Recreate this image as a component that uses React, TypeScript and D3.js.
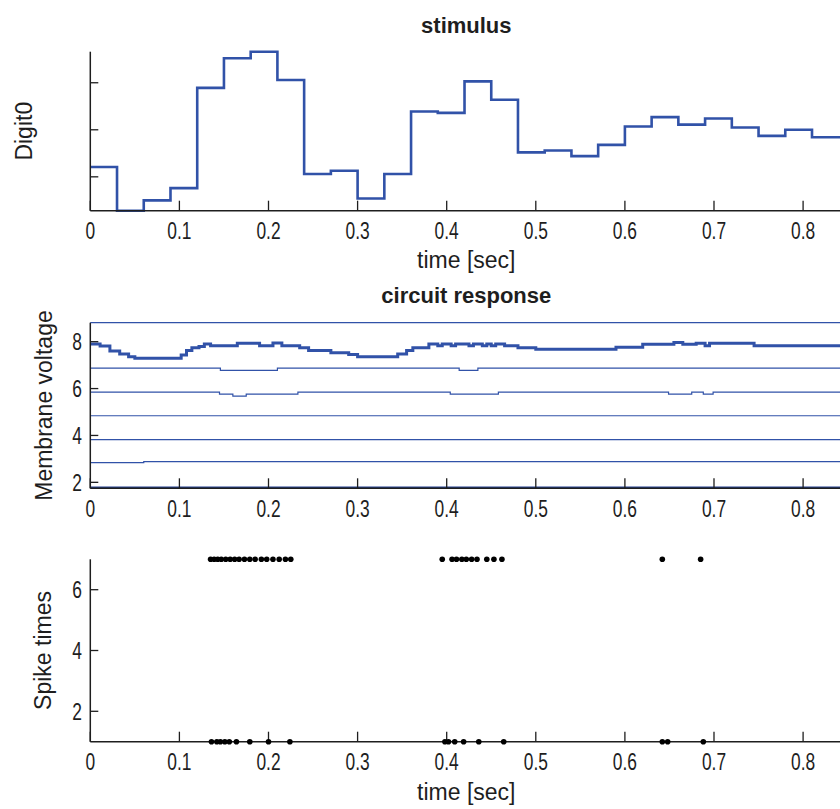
import React from 'react';
import * as d3 from 'd3';

// ---------- data ----------
const timeTicks = [0, 0.1, 0.2, 0.3, 0.4, 0.5, 0.6, 0.7, 0.8];
const timeTickLabels = ['0', '0.1', '0.2', '0.3', '0.4', '0.5', '0.6', '0.7', '0.8'];

const stimStarts = [0, 0.03, 0.06, 0.09, 0.12, 0.15, 0.18, 0.21, 0.24, 0.27, 0.30, 0.33, 0.36, 0.39,
  0.42, 0.45, 0.48, 0.51, 0.54, 0.57, 0.60, 0.63, 0.66, 0.69, 0.72, 0.75, 0.78, 0.81, 0.845];
const stimValues = [12.1, 2.8, 5.0, 7.6, 28.9, 35.2, 36.6, 30.6, 10.6, 11.3, 5.4, 10.6, 23.9, 23.6,
  30.3, 26.4, 15.2, 15.6, 14.4, 16.8, 20.7, 22.7, 21.1, 22.4, 20.5, 18.7, 20.0, 18.4, 18.4];
const stimTicks = [10, 20, 30];

const voltTicks = [2, 4, 6, 8];
const voltDomain = [1.745, 8.81];

const mainT = [0, 0.011, 0.022, 0.033, 0.043, 0.05, 0.102, 0.108, 0.114, 0.122, 0.128, 0.135, 0.165, 0.19,
  0.205, 0.215, 0.235, 0.245, 0.27, 0.29, 0.30, 0.345, 0.355, 0.362, 0.38, 0.39, 0.395, 0.405, 0.41, 0.425,
  0.43, 0.44, 0.445, 0.45, 0.455, 0.465, 0.48, 0.50, 0.59, 0.62, 0.655, 0.665, 0.68, 0.69, 0.695, 0.745, 0.845];
const mainV = [7.90, 7.82, 7.60, 7.48, 7.36, 7.29, 7.43, 7.62, 7.74, 7.79, 7.90, 7.83, 7.93, 7.83,
  7.94, 7.83, 7.74, 7.62, 7.53, 7.45, 7.36, 7.48, 7.62, 7.74, 7.90, 7.83, 7.90, 7.83, 7.90, 7.83,
  7.90, 7.83, 7.90, 7.83, 7.90, 7.83, 7.74, 7.68, 7.76, 7.89, 7.96, 7.89, 7.93, 7.83, 7.93, 7.83, 7.83];

const topT = [0, 0.845];
const topV = [8.81, 8.81];
const n6T = [0, 0.146, 0.21, 0.414, 0.435, 0.845];
const n6V = [6.87, 6.78, 6.87, 6.78, 6.87, 6.87];
const n5T = [0, 0.145, 0.16, 0.175, 0.233, 0.404, 0.458, 0.649, 0.675, 0.688, 0.699, 0.845];
const n5V = [5.85, 5.76, 5.68, 5.76, 5.85, 5.76, 5.85, 5.76, 5.85, 5.76, 5.85, 5.85];
const n4T = [0, 0.845];
const n4V = [4.84, 4.84];
const n3T = [0, 0.845];
const n3V = [3.82, 3.82];
const n2T = [0, 0.06, 0.845];
const n2V = [2.84, 2.88, 2.88];
const n1T = [0, 0.845];
const n1V = [1.78, 1.78];

const spikeTicks = [2, 4, 6];
const spikesRow7 = [0.135, 0.139, 0.143, 0.147, 0.152, 0.157, 0.162, 0.167, 0.173, 0.179, 0.185, 0.192,
  0.198, 0.205, 0.212, 0.219, 0.225, 0.395, 0.406, 0.411, 0.417, 0.422, 0.428, 0.434, 0.445, 0.453, 0.462,
  0.642, 0.685];
const spikesRow1 = [0.136, 0.142, 0.146, 0.151, 0.156, 0.164, 0.179, 0.200, 0.224, 0.398, 0.402, 0.409,
  0.419, 0.436, 0.464, 0.642, 0.648, 0.688];

// ---------- layout ----------
const W = 840, H = 809;
const X0 = 90.3, X1 = 842.3;
const FONT = '"Liberation Sans", Arial, Helvetica, sans-serif';
const BLUE = '#3152a8';
const INK = '#1e1e1e';

const x = d3.scaleLinear().domain([0, 0.844]).range([X0, X1]);

function T({ x, y, size, sx = 1, anchor = 'middle', weight = 'normal', rotate = 0, children }: any) {
  return (
    <text
      transform={`translate(${x},${y}) rotate(${rotate}) scale(${sx},1)`}
      fontSize={size}
      fontFamily={FONT}
      fontWeight={weight}
      textAnchor={anchor}
      fill={INK}
    >
      {children}
    </text>
  );
}

function XAxis({ y0 }: { y0: number }) {
  return (
    <g>
      <line x1={X0} x2={X1} y1={y0} y2={y0} stroke={INK} strokeWidth={1.5} />
      {timeTicks.map((t, i) => (
        <g key={i}>
          <line x1={x(t)} x2={x(t)} y1={y0} y2={y0 - 10} stroke={INK} strokeWidth={1.3} />
          <T x={x(t)} y={y0 + 28.5} size={23.5} sx={0.74}>{timeTickLabels[i]}</T>
        </g>
      ))}
    </g>
  );
}

function YAxis({ y, ticks, labels, top, bottom }: any) {
  return (
    <g>
      <line x1={X0} x2={X0} y1={top} y2={bottom} stroke={INK} strokeWidth={1.5} />
      {ticks.map((v: number, i: number) => (
        <g key={i}>
          <line x1={X0} x2={X0 + 8} y1={y(v)} y2={y(v)} stroke={INK} strokeWidth={1.3} />
          {labels && <T x={82} y={y(v) + 8.5} size={23.5} sx={0.74} anchor="end">{String(v)}</T>}
        </g>
      ))}
    </g>
  );
}

export default function App() {
  // Panel 1: stimulus
  const p1Top = 51.7, p1Bot = 210.7;
  const yS = d3.scaleLinear().domain(d3.extent(stimValues) as [number, number]).range([p1Bot, p1Top]);
  const stimLine = d3.line<number>()
    .x((_, i) => x(stimStarts[i]))
    .y((v) => yS(v))
    .curve(d3.curveStepAfter);

  // Panel 2: circuit response
  const p2Top = 322.7, p2Bot = 488.3;
  const yV = d3.scaleLinear().domain(voltDomain).range([p2Bot, p2Top]);
  const vLine = (ts: number[], vs: number[]) =>
    d3.line<number>().x((_, i) => x(ts[i])).y((v) => yV(v)).curve(d3.curveStepAfter)(vs) || '';
  const thin = [
    [topT, topV], [n6T, n6V], [n5T, n5V], [n4T, n4V], [n3T, n3V], [n2T, n2V],
  ];

  // Panel 3: spikes
  const p3Top = 559.3, p3Bot = 741.7;
  const yP = d3.scaleLinear().domain([1, 7]).range([p3Bot, p3Top]);

  return (
    <svg width={W} height={H} style={{ position: 'absolute', left: 0, top: 0, background: '#fff' }}>
      <rect width={W} height={H} fill="#fff" />

      {/* Panel 1 */}
      <T x={(X0 + X1) / 2} y={33} size={22} weight="bold">stimulus</T>
      <path d={stimLine(stimValues) || ''} fill="none" stroke={BLUE} strokeWidth={2.6} />
      <YAxis y={yS} ticks={stimTicks} labels={false} top={p1Top} bottom={p1Bot} />
      <XAxis y0={p1Bot} />
      <T x={32} y={(p1Top + p1Bot) / 2} size={23} rotate={-90}>Digit0</T>
      <T x={(X0 + X1) / 2} y={268} size={23}>time [sec]</T>

      {/* Panel 2 */}
      <T x={(X0 + X1) / 2} y={303} size={22} weight="bold">circuit response</T>
      {thin.map(([ts, vs], i) => (
        <path key={i} d={vLine(ts as number[], vs as number[])} fill="none" stroke={BLUE} strokeWidth={1.2} />
      ))}
      <path d={vLine(mainT, mainV)} fill="none" stroke={BLUE} strokeWidth={3} />
      <path d={vLine(n1T, n1V)} fill="none" stroke="#24408f" strokeWidth={2.2} />
      <YAxis y={yV} ticks={voltTicks} labels={true} top={p2Top} bottom={p2Bot} />
      <XAxis y0={p2Bot} />
      <T x={52} y={(p2Top + p2Bot) / 2} size={23} rotate={-90}>Membrane voltage</T>

      {/* Panel 3 */}
      <YAxis y={yP} ticks={spikeTicks} labels={true} top={p3Top} bottom={p3Bot} />
      <XAxis y0={p3Bot} />
      {spikesRow7.map((t, i) => (
        <circle key={'a' + i} cx={x(t)} cy={yP(7)} r={2.8} fill="#000" />
      ))}
      {spikesRow1.map((t, i) => (
        <circle key={'b' + i} cx={x(t)} cy={yP(1)} r={2.8} fill="#000" />
      ))}
      <T x={51} y={(p3Top + p3Bot) / 2} size={23} rotate={-90}>Spike times</T>
      <T x={(X0 + X1) / 2} y={800} size={23}>time [sec]</T>
    </svg>
  );
}
